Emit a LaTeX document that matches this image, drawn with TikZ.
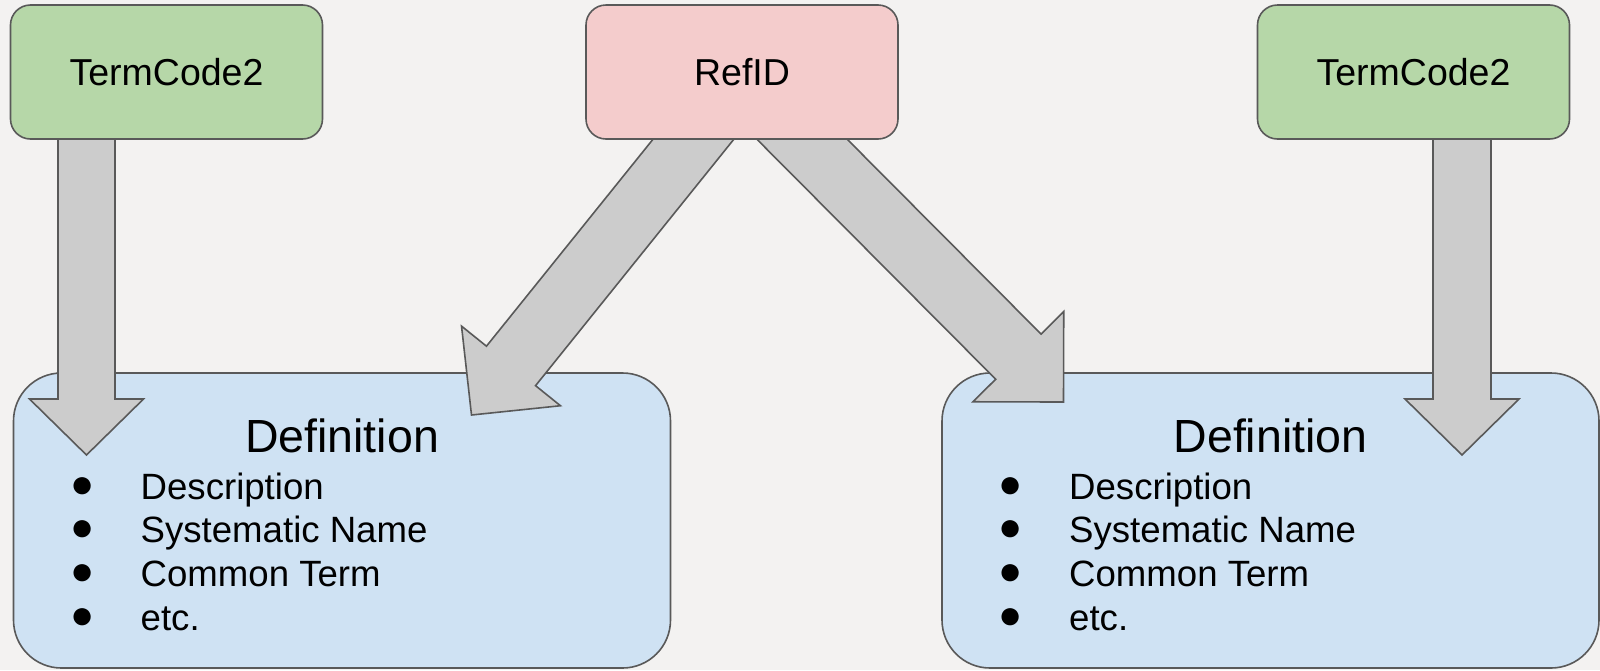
\documentclass[tikz,border=0pt]{standalone}
\usepackage{fontspec}
\setmainfont{Liberation Sans}
\usetikzlibrary{calc}
\pgfdeclarelayer{fg}
\pgfsetlayers{main,fg}

\definecolor{bgc}{HTML}{F3F2F1}
\definecolor{greenc}{HTML}{B6D7A8}
\definecolor{pinkc}{HTML}{F4CCCC}
\definecolor{bluec}{HTML}{CFE2F3}
\definecolor{arrowc}{HTML}{CCCCCC}
\definecolor{edgec}{HTML}{595959}

% #1 start, #2 tip, #3 shaft half width, #4 head half width, #5 head length, #6 name of head-back point
\newcommand\myarrow[6]{%
  \coordinate (#6) at ($(#2)!#5!(#1)$);
  \draw[blockarrow] ($(#1)!#3!90:(#2)$) -- ($(#6)!#3!90:(#2)$) -- ($(#6)!#4!90:(#2)$) -- (#2)
    -- ($(#6)!#4!-90:(#2)$) -- ($(#6)!#3!-90:(#2)$) -- ($(#1)!#3!-90:(#2)$) -- cycle;}

\begin{document}
\begin{tikzpicture}[x=1pt,y=-1pt,
  keybox/.style={draw=edgec, line width=1.6pt, rounded corners=20pt, outer sep=0pt,
    minimum width=312pt, minimum height=134pt, inner sep=0pt,
    font=\fontsize{37.5}{45}\selectfont},
  defbox/.style={draw=edgec, fill=bluec, line width=1.6pt, rounded corners=48pt, outer sep=0pt,
    minimum width=657pt, minimum height=295pt, inner sep=0pt},
  blockarrow/.style={draw=edgec, fill=arrowc, line width=1.6pt, line join=miter},
  deftitle/.style={anchor=base, inner sep=0pt, font=\fontsize{46.5}{55}\selectfont},
  item/.style={anchor=base west, inner sep=0pt, font=\fontsize{36.6}{44}\selectfont},
  bullet/.style={anchor=center, inner sep=0pt, font=\fontsize{40}{44}\selectfont}
]
\fill[bgc] (0,0) rectangle (1600,670);
\useasboundingbox (0,0) rectangle (1600,670);

% definition boxes
\node[defbox] (def1) at (342,520.5) {};
\node[defbox] (def2) at (1270.5,520.5) {};

\foreach \b in {def1,def2}{
  \node[deftitle] (\b-title) at ($(\b.north)+(0,79)$) {Definition};
  \node[item] (\b-i1) at ($(\b.north west)+(127,126)$) {Description};
  \node[item] (\b-i2) at ($(\b.north west)+(127,169)$) {Systematic Name};
  \node[item] (\b-i3) at ($(\b.north west)+(127,213)$) {Common Term};
  \node[item] (\b-i4) at ($(\b.north west)+(127,257)$) {etc.};
  \foreach \k/\y in {1/126,2/169,3/213,4/257}{
    \node[bullet] (\b-bul\k) at ($(\b.north west)+(69,\y-11)$) {●};
  }
}

% key boxes (on top layer)
\begin{pgfonlayer}{fg}
\node[keybox, fill=greenc] (tc1) at (166.5,72) {TermCode2};
\node[keybox, fill=pinkc] (ref) at (742,72) {RefID};
\node[keybox, fill=greenc] (tc2) at (1413.5,72) {TermCode2};
\end{pgfonlayer}

% arrows
\coordinate (s1) at ($(tc1.south west)+(76,-39)$);
\coordinate (t1) at ($(def1.north west)+(73,82)$);
\myarrow{s1}{t1}{28.5pt}{57pt}{56pt}{b1}

\coordinate (s2) at ($(ref.south)+(-17,-39)$);
\coordinate (t2) at ($(def1.north west)+(458,42)$);
\myarrow{s2}{t2}{31.5pt}{63.5pt}{63pt}{b2}

\coordinate (s3) at ($(ref.south)+(21,-39)$);
\coordinate (t3) at ($(def2.north west)+(121.5,29)$);
\myarrow{s3}{t3}{32pt}{64pt}{64pt}{b3}

\coordinate (s4) at ($(tc2.south west)+(204.5,-39)$);
\coordinate (t4) at ($(def2.north east)+(-137,82)$);
\myarrow{s4}{t4}{29pt}{57pt}{56pt}{b4}
\end{tikzpicture}
\end{document}
